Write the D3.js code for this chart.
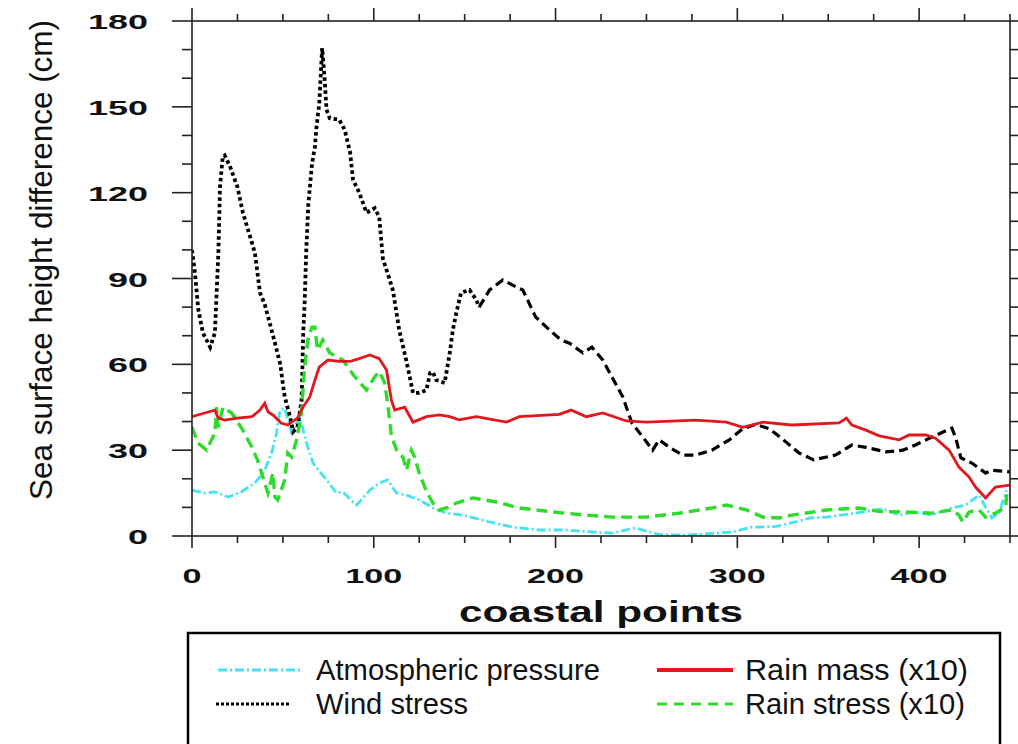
<!DOCTYPE html>
<html><head><meta charset="utf-8">
<script src="https://cdn.jsdelivr.net/npm/d3@7"></script>
<style>body{margin:0;background:#fff}svg{display:block}text{font-family:"Liberation Sans",Arial,sans-serif}</style>
</head><body><svg id="c" width="1018" height="744"></svg>
<script>
// ---- data ----
const xTicks = [0, 100, 200, 300, 400];
const yTicks = [0, 30, 60, 90, 120, 150, 180];
const seriesNames = ["Atmospheric pressure", "Wind stress", "Rain mass (x10)", "Rain stress (x10)"];

const windX = [0,1.6,3.5,6,10,12.6,14.5,15.4,16.9,18,21,25,28,32,34.6,37.4,40,44.6,48.4,51,53.8,55.7,58,60.3,61.2,62,62.8,64,66,67.6,68.5,70,71.6,73,74,75.8,81,84,87,88.6,92,96,100.5,103,105,110.5,114,118,121.6,125,129,131,132.5,134.4,139,141.8,143.5,145.4,148,152.7,156.4,158,163.7,171,178.4,182,189,196.7,203,207.7,215,220,226,231,237,242,248,253.4,257,262.6,270,277,286,295.6,303,310,317.6,326.7,334,342,354,363,370.7,381.7,391,398,407,418,420,423,429,436.6,440,450];
const windY = [100,92,79,71,66,71,99,122,132.5,133,129,122,113,104.5,99,85,81,70,60.5,48.7,42,36.5,38,47.5,71,82,99,116,130,136,143,151,170.5,159.5,149,146,145.5,142,134,124.5,120,113,114.6,111.5,97,86,72,61,50,50,51,57,57.3,54.5,53.5,64,72,78,85,86,82.5,80,86,89.5,87,86,76.6,72,68.5,67.4,64,66,61.5,55.6,48.6,39.5,34.6,30,33.6,31,28.3,28.3,30,33.6,37.5,39,37.5,32.9,29,26.6,28.3,31.8,31,29.4,30,31.8,34.6,37.7,34.6,27.3,25.5,22,23,22.4];

const rainMassX = [0,7,12.6,14.4,18,25,33,37.4,40,41.8,44.5,49,52.7,58,61,64.8,67.6,70,74.8,81,86.8,92,97.8,103,107,109.7,111.5,117,121.6,129,136,141.8,147,156.4,173,180,202,208.6,217,226,239,250,277,294,303,314,330,356,360,363,370.7,378,389,394.5,403.7,409,416.5,422,427.5,431,436.6,442,450];
const rainMassY = [41.7,43,44,41.2,40.5,41.2,41.7,44,46.4,43.4,42.3,39.5,38.8,41.2,45,48.6,54.5,59,61.5,61,61,62,63.3,62,58,47.5,44,45,39.8,41.7,42.3,41.7,40.6,41.7,39.8,41.7,42.5,44,41.7,43,40.2,39.8,40.5,39.8,38,39.8,38.8,39.5,41.2,38.8,37,35,33.6,35.3,35.3,34.2,30,24,20.6,17.1,13.3,17.1,17.8];

const pressX = [0,7,12.6,20,27,34.6,40,43.8,46.5,48.4,51,54.8,57.5,59.3,63,66.6,74,79.5,83,90.5,97.8,103,107.7,112.5,118,125,132.6,140,149,163.7,176.6,191,206,220,231,244,257,272,288,297,308,321,332,340,349,365,380,389,398,407,418,425.6,433,436.6,440,444,448];
const pressY = [16,15,15.4,13.6,15.4,18.5,23,29,36,44,44.7,36,39.5,41.7,32.5,25.5,19.6,15,15.4,10.8,16,18.5,19.6,15,14.3,12.6,9.8,8,7.3,4.9,3.1,2.1,2.1,1.4,1,2.8,0.5,0.3,1,1.4,3.1,3.3,4.9,6.3,6.6,8,9.5,7.3,8.4,7.3,9.8,10.8,14.3,10.1,6.3,8,16];

const rainStressX = [0,3.3,8,12.6,13.5,14.4,17,21.8,27,33,36,40,41.8,44.5,45.6,47.2,51,52.7,54.8,57.5,60,62,63.7,66,67.6,69,72,75.8,83,89.6,96,100.5,103,106,107.7,109.7,112.5,116,118,120.7,122.5,125,129,132.6,136,140,145.4,154.6,167.4,180,198.6,213,231,250,268,279,286,294,305,314,323,330,349,367,378,392.7,407,418,422,424,427.5,433,436.6,442,447.6,448.4];
const rainStressY = [38,32.5,30,36,45,38,45,43,38,31,26.6,18.5,15,22,13.6,12.6,19.6,29,27.6,33.6,41.7,59,68.5,73,73,65,68.5,64,61.5,55.6,51,55.6,57.5,53.5,46,35,30,27.6,23,30,27.6,22,15.5,11.5,9.1,9.8,11.5,13.3,11.9,9.8,8.4,7.5,6.6,6.6,8,9.1,9.8,10.8,9.1,6.6,6.3,7.3,9.1,9.8,8.6,8.4,8,9.1,7.3,4.9,8.4,9.1,6.6,8,10.1,16];

// ---- layout ----
const svg = d3.select("#c");
const L = 192, R = 1010, T = 21, B = 536;
const x = d3.scaleLinear().domain([0, 450]).range([L, R]);
const y = d3.scaleLinear().domain([0, 180]).range([B, T]);

const colors = {press: "#45e2f0", wind: "#000000", mass: "#e3161c", stress: "#2ddc2a"};

const zip = (xs, ys) => xs.map((v, i) => [v, ys[i]]);
const line = d3.line().x(d => x(d[0])).y(d => y(d[1]));

svg.append("clipPath").attr("id", "pc").append("rect")
  .attr("x", L).attr("y", T - 2).attr("width", R - L).attr("height", B - T + 2);
const g = svg.append("g").attr("clip-path", "url(#pc)");

g.append("path").datum(zip(pressX, pressY)).attr("d", line)
  .attr("fill", "none").attr("stroke", colors.press).attr("stroke-width", 2.8)
  .attr("stroke-dasharray", "9,3,2,3");
const windPts = zip(windX, windY);
g.append("path").datum(windPts.filter(d => d[0] <= 158)).attr("d", line)
  .attr("fill", "none").attr("stroke", colors.wind).attr("stroke-width", 3.8)
  .attr("stroke-dasharray", "3.5,3");
g.append("path").datum(windPts.filter(d => d[0] >= 158)).attr("d", line)
  .attr("fill", "none").attr("stroke", colors.wind).attr("stroke-width", 3.2)
  .attr("stroke-dasharray", "9,5");
g.append("path").datum(zip(rainStressX, rainStressY)).attr("d", line)
  .attr("fill", "none").attr("stroke", colors.stress).attr("stroke-width", 3.4)
  .attr("stroke-dasharray", "11,6");
g.append("path").datum(zip(rainMassX, rainMassY)).attr("d", line)
  .attr("fill", "none").attr("stroke", colors.mass).attr("stroke-width", 2.8);

// ---- axes ----
const axCol = "#222";
const xMinor = d3.range(0, 451, 25);
const yMinor = d3.range(0, 181, 10);
const ax = svg.append("g").attr("stroke", axCol).attr("stroke-width", 1.6);
ax.append("rect").attr("x", L).attr("y", T).attr("width", R - L).attr("height", B - T).attr("fill", "none");
xMinor.forEach(v => {
  const major = xTicks.includes(v);
  ax.append("line").attr("x1", x(v)).attr("x2", x(v)).attr("y1", B).attr("y2", B + (major ? 12 : 7));
  ax.append("line").attr("x1", x(v)).attr("x2", x(v)).attr("y1", T).attr("y2", T - (major ? 13 : 7));
});
yMinor.forEach(v => {
  const major = yTicks.includes(v);
  ax.append("line").attr("x1", L).attr("x2", L - (major ? 20 : 10)).attr("y1", y(v)).attr("y2", y(v));
  ax.append("line").attr("x1", R).attr("x2", R + (major ? 12 : 8)).attr("y1", y(v)).attr("y2", y(v));
});

const lab = svg.append("g").attr("fill", "#111").attr("font-weight", "bold").attr("font-size", 21);
xTicks.forEach(v => {
  const s = String(v);
  lab.append("text").attr("x", x(v)).attr("y", 583).attr("text-anchor", "middle")
    .attr("textLength", s.length * 19).attr("lengthAdjust", "spacingAndGlyphs").text(s);
});
yTicks.forEach(v => {
  const s = String(v);
  lab.append("text").attr("x", 148).attr("y", y(v) + 8).attr("text-anchor", "end")
    .attr("textLength", s.length * 20).attr("lengthAdjust", "spacingAndGlyphs").text(s);
});

svg.append("text").attr("x", 601).attr("y", 622).attr("text-anchor", "middle")
  .attr("font-size", 30).attr("font-weight", "bold").attr("fill", "#111")
  .attr("textLength", 284).attr("lengthAdjust", "spacingAndGlyphs").text("coastal points");
svg.append("text").attr("transform", "translate(52,260) rotate(-90)").attr("text-anchor", "middle")
  .attr("font-size", 31).attr("fill", "#111")
  .attr("textLength", 480).attr("lengthAdjust", "spacingAndGlyphs").text("Sea surface height difference (cm)");

// ---- legend ----
const lg = svg.append("g");
lg.append("rect").attr("x", 188).attr("y", 633).attr("width", 812).attr("height", 130)
  .attr("fill", "#fff").attr("stroke", "#000").attr("stroke-width", 2.5);
const items = [
  {name: seriesNames[0], c: colors.press, dash: "9,3,2,3", w: 3, x1: 218, x2: 300, tx: 316, ty: 670, tl: 284},
  {name: seriesNames[1], c: colors.wind, dash: "3,2", w: 3, x1: 216, x2: 290, tx: 316, ty: 704, tl: 152},
  {name: seriesNames[2], c: colors.mass, dash: null, w: 4, x1: 657, x2: 733, tx: 745, ty: 670, tl: 223},
  {name: seriesNames[3], c: colors.stress, dash: "10,7", w: 3, x1: 657, x2: 733, tx: 745, ty: 704, tl: 220}
];
items.forEach(it => {
  const ln = lg.append("line").attr("x1", it.x1).attr("x2", it.x2).attr("y1", it.ty).attr("y2", it.ty)
    .attr("stroke", it.c).attr("stroke-width", it.w);
  if (it.dash) ln.attr("stroke-dasharray", it.dash);
  lg.append("text").attr("x", it.tx).attr("y", it.ty + 10).attr("font-size", 30).attr("fill", "#111")
    .attr("textLength", it.tl).attr("lengthAdjust", "spacingAndGlyphs").text(it.name);
});
</script></body></html>
